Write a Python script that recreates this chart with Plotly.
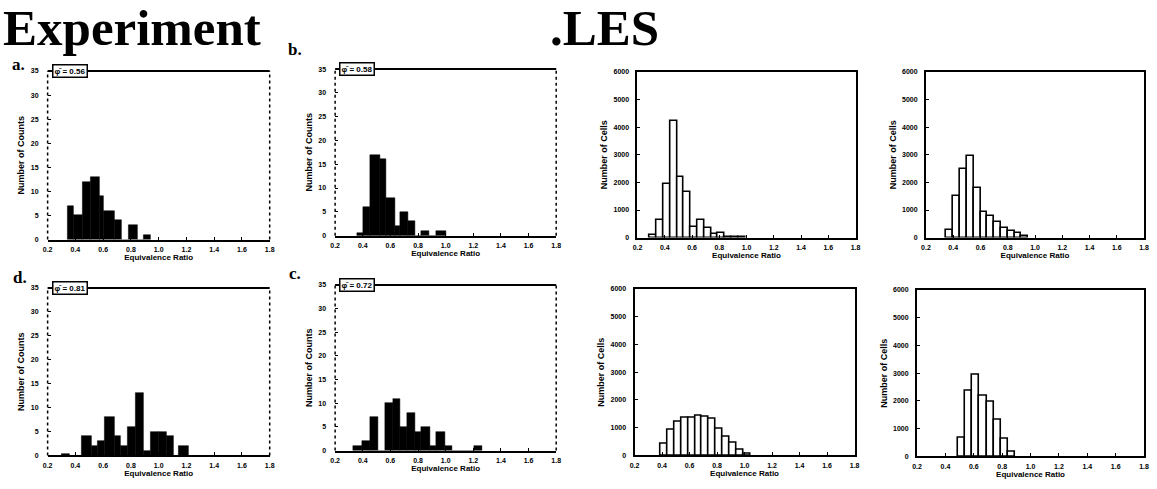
import plotly.graph_objects as go

W, H = 1157, 489

# ---------------- data ----------------
x_ticks = [0.2, 0.4, 0.6, 0.8, 1.0, 1.2, 1.4, 1.6, 1.8]
x_tick_labels = ["0.2", "0.4", "0.6", "0.8", "1.0", "1.2", "1.4", "1.6", "1.8"]
exp_y_ticks = [0, 5, 10, 15, 20, 25, 30, 35]
les_y_ticks = [0, 1000, 2000, 3000, 4000, 5000, 6000]

# Experiment histograms: bin edges and counts
exp_a_edges = [0.345, 0.39, 0.45, 0.51, 0.575, 0.605, 0.68, 0.735, 0.78, 0.845, 0.89, 0.94]
exp_a_counts = [7, 5, 12, 13, 9, 6, 4, 0, 3, 0, 1]

exp_b_edges = [0.356, 0.404, 0.451, 0.523, 0.571, 0.631, 0.667, 0.727, 0.782, 0.823, 0.883, 0.931, 1.0]
exp_b_counts = [0.5, 6, 17, 16, 8, 2, 5, 3, 0, 1, 0, 1]

exp_d_edges = [0.3, 0.36, 0.448, 0.519, 0.562, 0.614, 0.681, 0.729, 0.776, 0.831, 0.89, 0.943, 1.0, 1.057, 1.105, 1.145, 1.217]
exp_d_counts = [0.3, 0, 4, 2, 3, 8, 4, 2, 6, 13, 1, 5, 5, 4, 0, 2]

exp_c_edges = [0.332, 0.392, 0.451, 0.511, 0.559, 0.619, 0.667, 0.722, 0.782, 0.823, 0.887, 0.931, 0.995, 1.046, 1.206, 1.261]
exp_c_counts = [1, 2, 7, 0, 10, 11, 5, 8, 4, 5, 1, 4, 1, 0, 1]

# LES histograms: bin left edges (width 0.05) and counts
les_bin_width = 0.05
les1_left = [0.29, 0.34, 0.39, 0.44, 0.49, 0.54, 0.59, 0.64, 0.69, 0.74, 0.79, 0.84, 0.89, 0.94]
les1_counts = [80, 650, 1930, 4240, 2190, 1650, 380, 650, 330, 140, 150, 30, 30, 30]

les2_left = [0.35, 0.40, 0.45, 0.50, 0.55, 0.60, 0.65, 0.70, 0.75, 0.80, 0.85, 0.90]
les2_counts = [260, 1500, 2500, 2950, 1800, 930, 780, 570, 330, 240, 180, 50]

les3_left = [0.39, 0.44, 0.49, 0.54, 0.59, 0.64, 0.69, 0.74, 0.79, 0.84, 0.89, 0.94, 0.99]
les3_counts = [420, 930, 1220, 1370, 1370, 1430, 1400, 1310, 960, 660, 440, 200, 50]

les4_left = [0.49, 0.54, 0.59, 0.64, 0.69, 0.74, 0.79, 0.84]
les4_counts = [680, 2350, 2950, 2180, 1980, 1300, 650, 150]

exp_labels = ["a.", "b.", "d.", "c."]
exp_boxes = ["φ̄ = 0.56", "φ̄ = 0.58", "φ̄ = 0.81", "φ̄ = 0.72"]
x_title = "Equivalence Ratio"
exp_y_title = "Number of Counts"
les_y_title = "Number of Cells"

# ---------------- layout helpers ----------------
def px(x):
    return x / W

def py(y):
    return 1 - y / H

# panel boxes in pixels: (x0, x1, y0, y1)
panels = [
    (43, 267, 68, 239),     # a
    (333, 556, 66, 235),    # b
    (43, 267, 288, 458),    # d
    (333, 556, 285, 453),   # c
    (638, 858, 69, 237),    # LES 1
    (929, 1149, 69, 237),   # LES 2
    (635, 857, 289, 458),   # LES 3
    (920, 1149, 290, 459),  # LES 4
]

fig = go.Figure()
tick_font = dict(family="Liberation Sans", size=7, color="black", weight="bold")
xtitle_font = dict(family="Liberation Sans", size=8, color="black", weight="bold")
ytitle_font = dict(family="Liberation Sans", size=9, color="black", weight="bold")

exp_sets = [(exp_a_edges, exp_a_counts), (exp_b_edges, exp_b_counts),
            (exp_d_edges, exp_d_counts), (exp_c_edges, exp_c_counts)]
les_sets = [(les1_left, les1_counts), (les2_left, les2_counts),
            (les3_left, les3_counts), (les4_left, les4_counts)]

shapes = []
annotations = []

for i, (x0, x1, y0, y1) in enumerate(panels):
    n = i + 1
    xa = "x" if n == 1 else f"x{n}"
    ya = "y" if n == 1 else f"y{n}"
    is_exp = i < 4
    if is_exp:
        edges, counts = exp_sets[i]
        centers = [(edges[k] + edges[k + 1]) / 2 for k in range(len(counts))]
        widths = [edges[k + 1] - edges[k] for k in range(len(counts))]
        fig.add_trace(go.Bar(x=centers, y=counts, width=widths, xaxis=xa, yaxis=ya,
                             marker=dict(color="black", line=dict(color="black", width=0.5)),
                             showlegend=False, hoverinfo="x+y"))
    else:
        left, counts = les_sets[i - 4]
        centers = [l + les_bin_width / 2 for l in left]
        fig.add_trace(go.Bar(x=centers, y=counts, width=les_bin_width, xaxis=xa, yaxis=ya,
                             marker=dict(color="white", line=dict(color="black", width=1.6)),
                             showlegend=False, hoverinfo="x+y"))

    xkey = "xaxis" if n == 1 else f"xaxis{n}"
    ykey = "yaxis" if n == 1 else f"yaxis{n}"
    fig.layout[xkey] = dict(
        domain=[px(x0), px(x1)], anchor=ya, range=[0.2, 1.8],
        tickvals=x_ticks, ticktext=x_tick_labels, tickfont=tick_font,
        ticks="inside", ticklen=3, tickwidth=1, tickcolor="black",
        ticklabeloverflow="allow", ticklabelstandoff=2,
        showline=True, linecolor="black", linewidth=2,
        mirror=False if is_exp else True,
        showgrid=False, zeroline=False, fixedrange=True,
        title=dict(text=x_title, font=xtitle_font, standoff=2),
    )
    fig.layout[ykey] = dict(
        domain=[py(y1), py(y0)], anchor=xa,
        range=[0, 35] if is_exp else [0, 6000],
        tickvals=exp_y_ticks if is_exp else les_y_ticks,
        tickfont=tick_font,
        ticks="inside", ticklen=3, tickwidth=1, tickcolor="black",
        ticklabeloverflow="allow", ticklabelstandoff=8 if is_exp else 5,
        showline=not is_exp, linecolor="black", linewidth=2,
        mirror=True if not is_exp else False,
        showgrid=False, zeroline=False, fixedrange=True,
        title=dict(text=exp_y_title if is_exp else les_y_title, font=ytitle_font, standoff=4),
    )

    if is_exp:
        dref_x = f"{xa} domain"
        dref_y = f"{ya} domain"
        # top solid line
        shapes.append(dict(type="line", xref=dref_x, yref=dref_y, x0=0, x1=1, y0=1, y1=1,
                           line=dict(color="black", width=2)))
        # left & right dotted borders
        shapes.append(dict(type="line", xref=dref_x, yref=dref_y, x0=0, x1=0, y0=0, y1=1,
                           line=dict(color="black", width=1.5, dash="dot")))
        shapes.append(dict(type="line", xref=dref_x, yref=dref_y, x0=1, x1=1, y0=0, y1=1,
                           line=dict(color="black", width=1.5, dash="dot")))
        # panel letter
        lx = [14, 293, 15, 293][i]
        ly = [61, 46, 277, 273][i]
        annotations.append(dict(text=f"<b>{exp_labels[i]}</b>", x=px(lx), y=py(ly),
                                xref="paper", yref="paper", showarrow=False,
                                xanchor="center", yanchor="middle",
                                font=dict(family="Liberation Serif", size=17, color="black")))
        # value box at top-left corner
        annotations.append(dict(text=f"<b>{exp_boxes[i]}</b>", x=px(x0 + 4), y=py(y0),
                                xref="paper", yref="paper", showarrow=False,
                                xanchor="left", yanchor="middle",
                                font=dict(family="Liberation Sans", size=8, color="black"),
                                bgcolor="white", bordercolor="black", borderwidth=1.5,
                                borderpad=1))

# main titles
annotations.append(dict(text="<b>Experiment</b>", x=px(-4), y=1, xref="paper", yref="paper",
                        showarrow=False, xanchor="left", yanchor="top", yshift=6,
                        font=dict(family="Liberation Serif", size=51, color="black")))
annotations.append(dict(text="<b>.LES</b>", x=px(548), y=1, xref="paper", yref="paper",
                        showarrow=False, xanchor="left", yanchor="top", yshift=6,
                        font=dict(family="Liberation Serif", size=51, color="black")))

fig.update_layout(
    width=W, height=H,
    margin=dict(l=0, r=0, t=0, b=0),
    paper_bgcolor="white", plot_bgcolor="white",
    bargap=0, barmode="overlay",
    shapes=shapes, annotations=annotations,
    font=dict(family="Liberation Sans", color="black"),
)

fig.write_html("out.html", config={"displayModeBar": False},
               post_script="document.body.style.margin='0';")
